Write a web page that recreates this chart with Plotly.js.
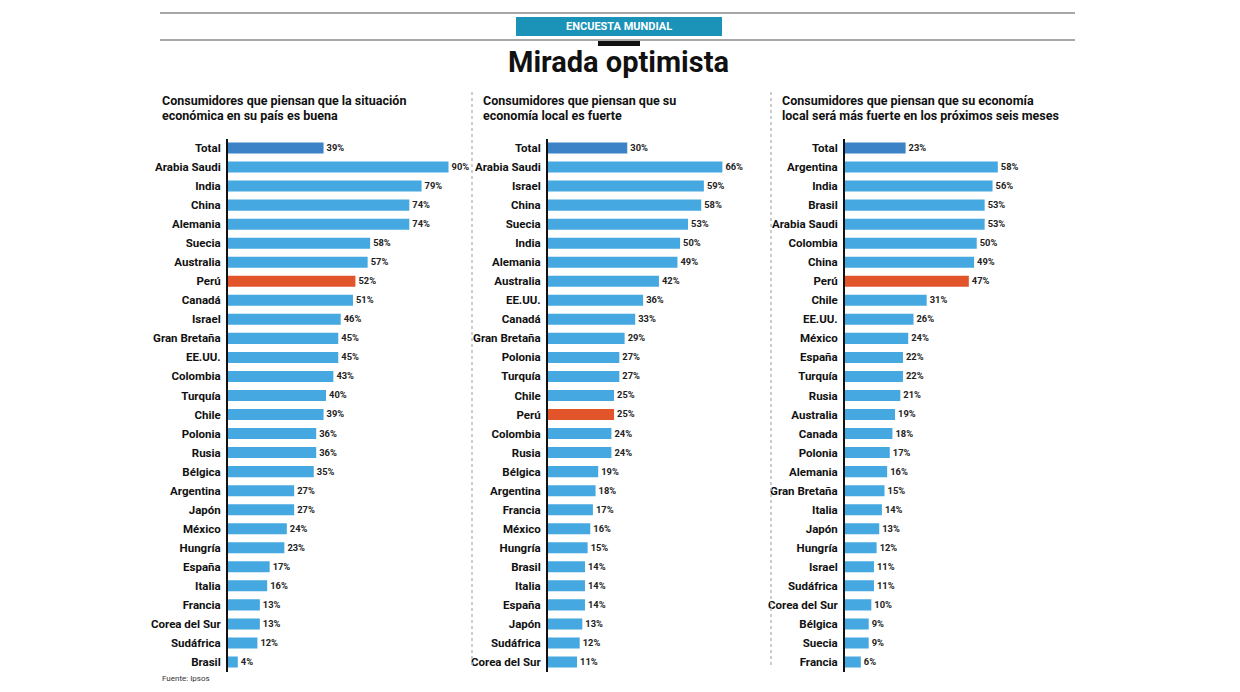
<!DOCTYPE html>
<html><head><meta charset="utf-8">
<script src="https://cdn.plot.ly/plotly-3.0.1.min.js"></script>
<style>body{margin:0;background:#fff}#chart{width:1240px;height:692px}</style>
</head><body><div id="chart"></div>
<script>
// ---------- DATA ----------
const cats1 = ["Total","Arabia Saudi","India","China","Alemania","Suecia","Australia","Perú","Canadá","Israel","Gran Bretaña","EE.UU.","Colombia","Turquía","Chile","Polonia","Rusia","Bélgica","Argentina","Japón","México","Hungría","España","Italia","Francia","Corea del Sur","Sudáfrica","Brasil"];
const vals1 = [39,90,79,74,74,58,57,52,51,46,45,45,43,40,39,36,36,35,27,27,24,23,17,16,13,13,12,4];

const cats2 = ["Total","Arabia Saudi","Israel","China","Suecia","India","Alemania","Australia","EE.UU.","Canadá","Gran Bretaña","Polonia","Turquía","Chile","Perú","Colombia","Rusia","Bélgica","Argentina","Francia","México","Hungría","Brasil","Italia","España","Japón","Sudáfrica","Corea del Sur"];
const vals2 = [30,66,59,58,53,50,49,42,36,33,29,27,27,25,25,24,24,19,18,17,16,15,14,14,14,13,12,11];

const cats3 = ["Total","Argentina","India","Brasil","Arabia Saudi","Colombia","China","Perú","Chile","EE.UU.","México","España","Turquía","Rusia","Australia","Canada","Polonia","Alemania","Gran Bretaña","Italia","Japón","Hungría","Israel","Sudáfrica","Corea del Sur","Bélgica","Suecia","Francia"];
const vals3 = [23,58,56,53,53,50,49,47,31,26,24,22,22,21,19,18,17,16,15,14,13,12,11,11,10,9,9,6];

const panelTitles = [
  ["Consumidores que piensan que la situación", "económica en su país es buena"],
  ["Consumidores que piensan que su", "economía local es fuerte"],
  ["Consumidores que piensan que su economía", "local será más fuerte en los próximos seis meses"]
];
const headerLabel = "ENCUESTA MUNDIAL";
const mainTitle = "Mirada optimista";
const sourceText = "Fuente: Ipsos";

// ---------- LAYOUT HELPERS ----------
const W = 1240, H = 692;
const px = x => x / W;
const py = y => 1 - y / H;
const FONT = "Roboto, 'Liberation Sans', sans-serif";

const COL_BAR = "#45a8e0", COL_TOTAL = "#3b82c6", COL_PERU = "#e2552b";
const colorFor = c => c === "Total" ? COL_TOTAL : (c === "Perú" ? COL_PERU : COL_BAR);

const panels = [
  {cats: cats1, vals: vals1, x0: 228, x1: 462, max: 95.5, tx: 160},
  {cats: cats2, vals: vals2, x0: 548, x1: 762, max: 81, tx: 481},
  {cats: cats3, vals: vals3, x0: 845, x1: 1065, max: 83.5, tx: 780}
];

const yTop = 138.5, yBot = 671.5;
const traces = [];
const layout = {
  width: W, height: H,
  margin: {l: 0, r: 0, t: 0, b: 0},
  paper_bgcolor: "#fff", plot_bgcolor: "rgba(0,0,0,0)",
  showlegend: false,
  bargap: 0.42,
  font: {family: FONT, color: "#111"},
  shapes: [], annotations: []
};

panels.forEach((p, i) => {
  const n = i + 1;
  const xa = "x" + (n === 1 ? "" : n), ya = "y" + (n === 1 ? "" : n);
  traces.push({
    type: "bar", orientation: "h",
    x: p.vals, y: p.cats,
    xaxis: xa, yaxis: ya,
    marker: {color: p.cats.map(colorFor)},
    texttemplate: "%{x}%", textposition: "outside",
    textfont: {family: FONT, size: 11, color: "#222", weight: "bold"},
    cliponaxis: false, hoverinfo: "skip"
  });
  const xk = "xaxis" + (n === 1 ? "" : n), yk = "yaxis" + (n === 1 ? "" : n);
  layout[xk] = {
    domain: [px(p.x0), px(p.x1)], range: [0, p.max],
    anchor: ya, visible: false, fixedrange: true
  };
  layout[yk] = {
    domain: [py(yBot), py(yTop)], anchor: xa,
    type: "category", range: [p.cats.length - 0.5, -0.5],
    showline: true, linecolor: "#111", linewidth: 2,
    ticks: "", showgrid: false, zeroline: false,
    ticklabelstandoff: 3,
    tickfont: {family: FONT, size: 11.5, color: "#111", weight: "bold"},
    fixedrange: true
  };
  panelTitles[i].forEach((t, k) => {
    layout.annotations.push({
      text: t, xref: "paper", yref: "paper",
      x: px(p.tx), y: py(101 + k * 15), xanchor: "left", yanchor: "middle",
      showarrow: false,
      font: {family: FONT, size: 12.5, color: "#111", weight: "bold"}
    });
  });
});

[13, 40].forEach(y => layout.shapes.push({
  type: "line", xref: "paper", yref: "paper",
  x0: px(160), x1: px(1075), y0: py(y), y1: py(y),
  line: {color: "#8a8a8a", width: 1.5}
}));
layout.shapes.push({
  type: "rect", xref: "paper", yref: "paper",
  x0: px(516), x1: px(722), y0: py(36), y1: py(17),
  fillcolor: "#1b93b8", line: {width: 0}
});
layout.shapes.push({
  type: "rect", xref: "paper", yref: "paper",
  x0: px(598), x1: px(640), y0: py(46), y1: py(41),
  fillcolor: "#111", line: {width: 0}
});
[472, 771].forEach(x => layout.shapes.push({
  type: "line", xref: "paper", yref: "paper",
  x0: px(x), x1: px(x), y0: py(92), y1: py(668),
  line: {color: "#bdbdbd", width: 1.5, dash: "dot"}
}));

layout.annotations.push({
  text: headerLabel, xref: "paper", yref: "paper",
  x: px(619), y: py(26.5), xanchor: "center", yanchor: "middle", showarrow: false,
  font: {family: FONT, size: 11, color: "#fff", weight: "bold"}
});
layout.annotations.push({
  text: mainTitle, xref: "paper", yref: "paper",
  x: px(618), y: py(62), xanchor: "center", yanchor: "middle", showarrow: false,
  font: {family: FONT, size: 29, color: "#111", weight: "bold"}
});
layout.annotations.push({
  text: sourceText, xref: "paper", yref: "paper",
  x: px(160), y: py(678), xanchor: "left", yanchor: "middle", showarrow: false,
  font: {family: FONT, size: 8, color: "#333"}
});

Plotly.newPlot("chart", traces, layout, {displayModeBar: false, staticPlot: true});
</script>
</body></html>
